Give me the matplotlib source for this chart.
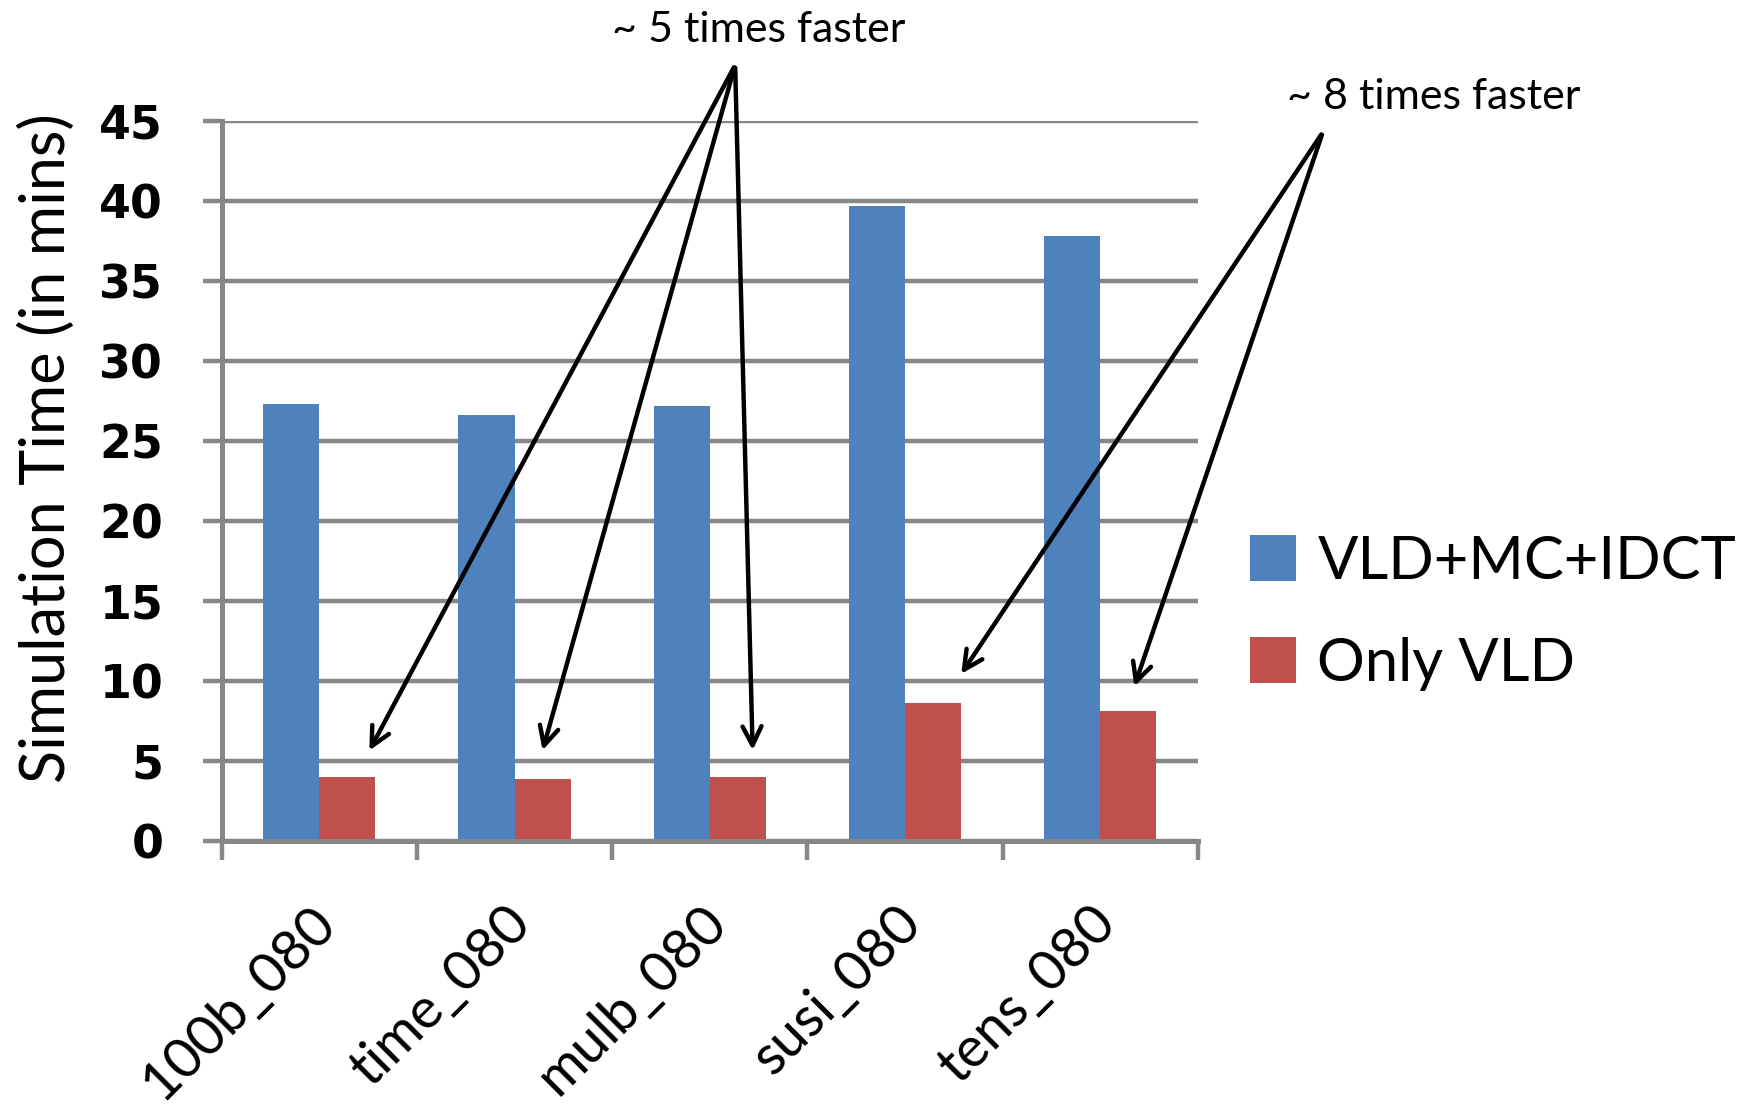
import matplotlib
matplotlib.use("Agg")
import matplotlib.pyplot as plt
from matplotlib.transforms import ScaledTranslation
import numpy as np

categories = ["100b_080", "time_080", "mulb_080", "susi_080", "tens_080"]
full_decode = [27.3, 26.6, 27.2, 39.7, 37.8]
only_vld = [4.0, 3.9, 4.0, 8.6, 8.1]
series_names = ["VLD+MC+IDCT", "Only VLD"]
yticks = [0, 5, 10, 15, 20, 25, 30, 35, 40, 45]

# annotation text, start point and arrow targets (data coords)
note5 = "~ 5 times faster"
note5_from = (2.13, 48.5)
note5_to = [(0.25, 5.5), (1.14, 5.5), (2.22, 5.5)]
note8 = "~ 8 times faster"
note8_from = (5.14, 44.3)
note8_to = [(3.28, 10.3), (4.17, 9.5)]

blue = "#4F81BD"
red = "#C0504D"
grey = "#878787"

fig = plt.figure(figsize=(17.59, 11.06), dpi=100)
ax = fig.add_axes([0.126, 0.2396, 0.555, 0.651])

x = np.arange(len(categories))
w = 0.287
ax.bar(x - w / 2, full_decode, w, color=blue, label=series_names[0], zorder=3)
ax.bar(x + w / 2, only_vld, w, color=red, label=series_names[1], zorder=3)

ax.set_xlim(-0.5, len(categories) - 0.5)
ax.set_ylim(0, 45)
ax.set_yticks(yticks)
ax.set_yticklabels([str(v) for v in yticks], fontsize=33, fontweight="bold",
                   family="DejaVu Sans")
ax.yaxis.grid(True, color=grey, linewidth=3.2, zorder=0)
ax.tick_params(axis="y", length=14, width=3.2, color=grey, pad=28)

ax.set_xticks(x)
ax.set_xticklabels(categories, rotation=45, ha="right", rotation_mode="anchor",
                   fontsize=40, family="Lato")
ax.set_xticks(np.arange(len(categories) + 1) - 0.5, minor=True)
ax.tick_params(axis="x", which="major", length=0, pad=40)
ax.tick_params(axis="x", which="minor", length=14, width=3.2, color=grey)
shift = ScaledTranslation(-0.1, 0, fig.dpi_scale_trans)
for lab in ax.get_xticklabels():
    lab.set_transform(lab.get_transform() + shift)

for s in ["top", "right"]:
    ax.spines[s].set_visible(False)
for s in ["left", "bottom"]:
    ax.spines[s].set_color(grey)
    ax.spines[s].set_linewidth(3.6)
    ax.spines[s].set_zorder(4)

ax.set_ylabel("Simulation Time (in mins)", fontsize=44, family="Lato")
ax.yaxis.set_label_coords(-0.149, 0.545)

ax.text(note5_from[0] + 0.12, note5_from[1] + 1.0, note5, ha="center", va="bottom",
        fontsize=31, family="Lato", clip_on=False)
for t in note5_to:
    ax.annotate("", xy=t, xytext=note5_from, annotation_clip=False,
                arrowprops=dict(arrowstyle="->", color="black", lw=3.2,
                                mutation_scale=34))
ax.text(note8_from[0] + 0.57, note8_from[1] + 1.0, note8, ha="center", va="bottom",
        fontsize=31, family="Lato", clip_on=False)
for t in note8_to:
    ax.annotate("", xy=t, xytext=note8_from, annotation_clip=False,
                arrowprops=dict(arrowstyle="->", color="black", lw=3.2,
                                mutation_scale=34))

leg = fig.legend(loc="center left", bbox_to_anchor=(0.68, 0.446), frameon=False,
                 handlelength=0.78, handleheight=0.82, handletextpad=0.35,
                 labelspacing=0.8, prop={"family": "Lato", "size": 43})

fig.savefig("out.png", dpi=100)
